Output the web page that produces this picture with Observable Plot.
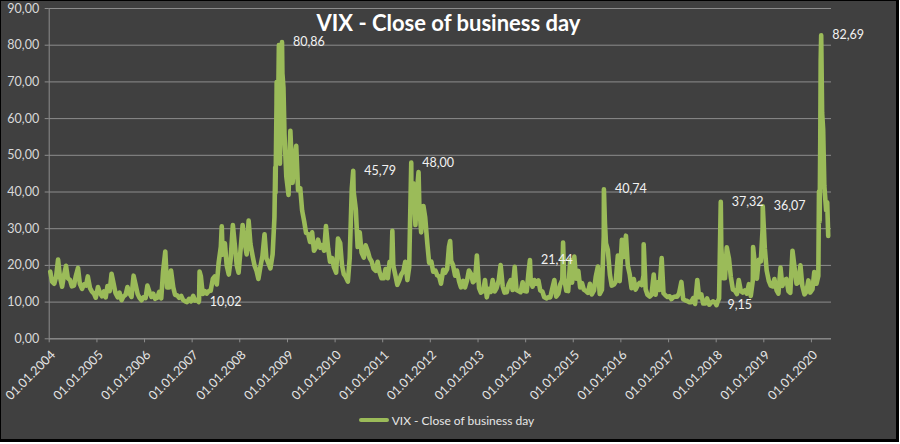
<!DOCTYPE html>
<html>
<head>
<meta charset="utf-8">
<script src="https://cdn.jsdelivr.net/npm/d3@7"></script>
<script src="https://cdn.jsdelivr.net/npm/@observablehq/plot@0.6"></script>
<style>
  html, body { margin: 0; padding: 0; background: #ffffff; }
  #chart {
    position: relative; width: 895px; height: 438px; background: #404040;
    border-left: 1px solid #000; border-top: 1px solid #000;
    border-right: 3px solid #000; border-bottom: 3px solid #000;
    font-family: Lato, "Open Sans", sans-serif; overflow: hidden;
  }
  #title {
    position: absolute; top: 9px; left: 0; width: 100%; text-align: center;
    color: #ffffff; font-weight: bold; font-size: 22px; line-height: 26px;
  }
  #legend {
    height: 38px; display: flex; align-items: center; justify-content: center;
    color: #e6e6e6; font-size: 12px; padding-right: 4px; box-sizing: border-box;
  }
  #legend .sw { width: 30px; height: 4px; border-radius: 2px; background: #9bbb59; margin-right: 3px; }
  svg { display: block; }
</style>
</head>
<body>
<div id="chart">
  <div id="plot"></div>
  <div id="legend"><span class="sw"></span><span>VIX - Close of business day</span></div>
  <div id="title">VIX - Close of business day</div>
</div>
<script>
// ---- Data: VIX closes, two readings per month (around the 9th and 23rd) ----
const vix2004 = [18.3,15.6, 15.0,16.9, 21.6,17.0, 14.2,17.2, 19.9,16.5, 16.0,14.3, 14.5,17.1, 19.3,15.0, 13.6,14.8, 14.5,17.0, 13.8,12.9, 12.3,11.2];
const vix2005 = [14.1,12.6, 11.6,12.9, 11.3,14.4, 13.0,17.7, 15.0,12.5, 11.3,12.6, 10.5,11.5, 12.0,14.1, 12.3,11.4, 17.2,15.0, 12.2,11.2, 10.5,11.3];
const vix2006 = [11.1,14.5, 12.6,11.4, 12.3,10.9, 11.2,12.8, 11.0,18.3, 23.8,14.0, 14.0,18.6, 14.0,12.0, 11.8,11.2, 11.7,10.6, 10.2,10.0, 10.9,10.2];
const vix2007 = [11.7,10.4, 10.6,10.5, 17.0,12.2, 13.0,12.3, 13.0,13.1, 16.4,17.0, 14.8,20.7, 25.1,22.9, 26.0,20.0, 17.5,21.6, 31.0,26.0, 20.0,18.0];
const vix2008 = [25.0,31.0, 26.0,23.0, 32.2,25.8, 22.5,20.0, 18.5,16.3, 20.0,22.5, 28.5,22.0, 20.5,19.2, 23.0,33.1, 63.9,67.8, 56.1,72.3, 55.7,44.2];
const vix2009 = [39.2,56.7, 42.5,49.0, 52.6,40.5, 41.0,35.0, 32.0,28.9, 28.5,26.4, 29.0,24.0, 25.0,27.0, 24.8,25.5, 24.0,30.7, 24.5,21.0, 22.0,19.5];
const vix2010 = [18.0,27.3, 26.1,20.0, 17.6,16.9, 15.6,22.0, 40.9,40.1, 35.2,25.0, 29.0,23.5, 22.1,25.5, 23.8,22.0, 21.0,19.1, 18.5,21.0, 18.0,16.5];
const vix2011 = [16.5,19.0, 16.5,21.0, 21.0,20.0, 17.2,14.7, 16.0,17.5, 18.5,21.0, 16.0,19.5, 35.1,42.4, 31.0,41.3, 36.0,29.0, 36.2,33.0, 26.0,20.7];
const vix2012 = [21.0,18.3, 18.6,17.3, 17.0,15.0, 18.8,18.0, 19.0,25.1, 21.2,20.1, 17.2,18.6, 15.6,14.0, 15.8,14.0, 16.0,18.6, 17.6,15.4, 16.0,22.7];
const vix2013 = [13.8,12.6, 13.0,16.0, 11.3,13.6, 12.8,16.0, 12.9,13.8, 16.0,20.1, 14.3,12.6, 12.7,14.8, 16.0,13.3, 19.6,13.3, 13.0,12.7, 15.4,13.0];
const vix2014 = [12.9,18.1, 15.5,14.2, 16.0,15.0, 15.9,13.2, 12.9,11.4, 11.0,11.3, 11.3,13.5, 16.0,11.5, 12.3,14.8, 16.0,16.5, 13.1,13.0, 21.5,15.3];
const vix2015 = [22.4,16.4, 18.5,14.0, 15.2,13.4, 13.0,12.5, 15.0,12.1, 13.2,17.0, 19.7,12.2, 13.4,28.0, 26.0,24.2, 17.5,14.5, 14.8,15.6, 22.7,15.7];
const vix2016 = [27.0,22.3, 28.1,20.0, 17.5,13.8, 16.3,13.4, 14.6,15.2, 14.6,17.3, 13.5,12.0, 11.5,12.0, 17.5,12.0, 15.4,13.3, 22.0,12.4, 11.8,11.4];
const vix2017 = [11.6,10.8, 11.4,11.5, 11.5,12.5, 15.5,10.8, 10.5,10.3, 10.0,10.0, 11.1,9.5, 16.0,11.3, 12.1,9.6, 9.6,11.0, 9.3,9.9, 10.2,9.9];
const vix2018 = [9.8,11.0, 25.0,16.5, 16.5,24.9, 21.8,16.9, 13.4,13.2, 12.2,16.0, 13.0,12.6, 13.2,12.3, 14.9,11.7, 16.0,20.7, 16.4,21.5, 21.1,30.1];
const vix2019 = [24.5,18.6, 15.7,14.5, 14.3,16.3, 13.2,12.3, 19.4,14.4, 16.0,16.3, 13.0,12.5, 24.0,19.9, 15.0,15.3, 20.0,14.5, 12.1,12.8, 15.9,12.6];
const vix2020 = [13.5,18.2, 15.0,17.1, 54.5,61.6, 41.7,35.0, 28.0];

// Individual spike days (closes)
const spikeDates  = ["2007-02-27","2007-08-16","2008-09-29","2008-10-01","2008-10-10","2008-10-27","2008-11-04","2008-12-01","2011-03-16","2011-10-03","2012-06-01","2014-10-15","2015-09-01","2016-06-24","2018-10-11","2020-02-28","2020-03-04","2020-03-12","2020-03-31","2020-05-01"];
const spikeValues = [18.31, 30.67, 46.72, 39.81, 69.95, 80.06, 47.73, 68.51, 29.40, 45.45, 26.66, 26.25, 31.40, 25.76, 24.98, 40.11, 31.99, 75.47, 57.08, 37.19];

// Labelled points
const labelDates  = ["2007-02-20","2008-11-20","2010-05-20","2011-08-08","2014-02-03","2015-08-24","2018-01-03","2018-02-05","2018-12-24","2020-03-16"];
const labelValues = [10.02, 80.86, 45.79, 48.00, 21.44, 40.74, 9.15, 37.32, 36.07, 82.69];

const tickYears = [2004,2005,2006,2007,2008,2009,2010,2011,2012,2013,2014,2015,2016,2017,2018,2019,2020];
const yTicks = [0,10,20,30,40,50,60,70,80,90];
const xDomain = [new Date("2004-01-01"), new Date("2020-06-03")];

// ---- Build table ----
const yearSeries = [[2004,vix2004],[2005,vix2005],[2006,vix2006],[2007,vix2007],[2008,vix2008],[2009,vix2009],[2010,vix2010],[2011,vix2011],[2012,vix2012],[2013,vix2013],[2014,vix2014],[2015,vix2015],[2016,vix2016],[2017,vix2017],[2018,vix2018],[2019,vix2019],[2020,vix2020]];
const slotDays = [9, 23];
const rows = [];
for (const [yr, arr] of yearSeries) {
  arr.forEach((v, i) => rows.push({date: new Date(Date.UTC(yr, Math.floor(i / 2), slotDays[i % 2])), value: v}));
}
spikeDates.forEach((d, i) => rows.push({date: new Date(d), value: spikeValues[i]}));
const labels = labelDates.map((d, i) => ({date: new Date(d), value: labelValues[i], text: labelValues[i].toFixed(2).replace(".", ",")}));
labels.forEach(l => rows.push({date: l.date, value: l.value}));
rows.sort((a, b) => a.date - b.date);

const grid = "#8c8c8c";
const fmtY = d => d.toFixed(2).replace(".", ",");
const xTicks = tickYears.map(y => new Date(Date.UTC(y, 0, 1)));

const chart = Plot.plot({
  width: 895,
  height: 400,
  marginLeft: 47.7,
  marginRight: 65,
  marginTop: 7,
  marginBottom: 62.7,
  style: {background: "transparent", color: "#d9d9d9", fontFamily: "Lato, 'Open Sans', sans-serif", fontSize: "12px", overflow: "visible"},
  x: {type: "utc", domain: xDomain, label: null},
  y: {domain: [0, 90], label: null},
  marks: [
    Plot.gridY(yTicks, {stroke: grid, strokeOpacity: 1}),
    Plot.ruleX([xDomain[0]], {stroke: grid}),
    Plot.ruleY([0], {stroke: grid}),
    Plot.axisY({ticks: yTicks, tickFormat: fmtY, label: null, tickSize: 4, tickPadding: 6, stroke: grid, fill: "#d9d9d9", fontSize: 12.5}),
    // tick marks only
    Plot.axisX({ticks: xTicks, tickFormat: () => "", label: null, tickSize: 4, stroke: grid}),
    // rotated tick labels
    Plot.axisX({ticks: xTicks, tickFormat: d => "01.01." + d.getUTCFullYear(), label: null, tickRotate: -45, tickSize: 0, tickPadding: 8, dx: 4, dy: 6, fill: "#e6e6e6", fontSize: 12.5}),
    Plot.line(rows, {x: "date", y: "value", stroke: "#9bbb59", strokeWidth: 4.6, strokeLinejoin: "round", strokeLinecap: "round"}),
    Plot.text(labels, {x: "date", y: "value", text: "text", dx: 11, textAnchor: "start", fill: "#f2f2f2", fontSize: 12.5})
  ]
});
document.getElementById("plot").appendChild(chart);
</script>
</body>
</html>
